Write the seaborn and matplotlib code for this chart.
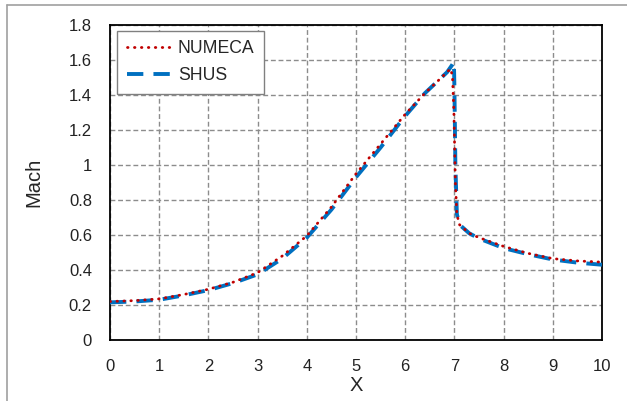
import matplotlib
matplotlib.use("Agg")
import matplotlib.pyplot as plt
from matplotlib.lines import Line2D
import seaborn as sns
import pandas as pd

numeca_x = [0, 0.5, 1, 1.5, 2, 2.5, 3, 3.5, 4, 4.5, 5, 5.5, 6, 6.4, 6.7, 6.85, 6.92, 6.96, 6.99, 7.02, 7.05, 7.1, 7.3, 7.5, 8, 8.5, 9, 9.5, 10]
numeca_y = [0.22, 0.225, 0.235, 0.26, 0.29, 0.33, 0.385, 0.48, 0.595, 0.76, 0.95, 1.12, 1.29, 1.41, 1.49, 1.53, 1.55, 1.51, 1.3, 0.9, 0.72, 0.66, 0.61, 0.585, 0.535, 0.495, 0.465, 0.452, 0.445]

shus_x = [0, 0.5, 1, 1.5, 2, 2.5, 3, 3.5, 4, 4.5, 5, 5.5, 6, 6.4, 6.7, 6.85, 6.95, 6.99, 7.0, 7.02, 7.05, 7.1, 7.3, 7.5, 8, 8.5, 9, 9.5, 10]
shus_y = [0.215, 0.22, 0.23, 0.255, 0.285, 0.325, 0.375, 0.465, 0.585, 0.745, 0.93, 1.1, 1.28, 1.41, 1.49, 1.53, 1.57, 1.59, 1.45, 1.0, 0.72, 0.66, 0.61, 0.58, 0.525, 0.49, 0.46, 0.442, 0.43]

x_ticks = [0, 1, 2, 3, 4, 5, 6, 7, 8, 9, 10]
y_ticks = [0, 0.2, 0.4, 0.6, 0.8, 1.0, 1.2, 1.4, 1.6, 1.8]
y_tick_labels = ["0", "0.2", "0.4", "0.6", "0.8", "1", "1.2", "1.4", "1.6", "1.8"]

sns.set_style("white")
plt.rcParams["font.family"] = ["Liberation Sans", "DejaVu Sans"]

RED_STYLE = (0, (0.2, 2.3))
BLUE_STYLE = (0, (4.2, 2.6))

fig = plt.figure(figsize=(6.27, 4.01), dpi=100)
ax = fig.add_axes([110 / 627, 61 / 401, 492 / 627, 315 / 401])

df_n = pd.DataFrame({"X": numeca_x, "Mach": numeca_y})
df_s = pd.DataFrame({"X": shus_x, "Mach": shus_y})

sns.lineplot(data=df_n, x="X", y="Mach", ax=ax, color="#C00000", linewidth=2.0,
             estimator=None, sort=True, label="NUMECA", zorder=4)
sns.lineplot(data=df_s, x="X", y="Mach", ax=ax, color="#0070C0", linewidth=2.8,
             estimator=None, sort=True, label="SHUS", zorder=3)
ln_n, ln_s = ax.get_lines()[0], ax.get_lines()[1]
ln_n.set_linestyle(RED_STYLE)
ln_n.set_dash_capstyle("round")
ln_s.set_linestyle(BLUE_STYLE)
ln_s.set_dash_capstyle("butt")

ax.set_xlim(0, 10)
ax.set_ylim(0, 1.8)
ax.set_xticks(x_ticks)
ax.set_xticklabels([str(t) for t in x_ticks])
ax.set_yticks(y_ticks)
ax.set_yticklabels(y_tick_labels)
ax.tick_params(axis="both", direction="in", length=4, width=0.8, color="black",
               labelsize=12, labelcolor="#222222")
ax.tick_params(axis="x", pad=14)
ax.tick_params(axis="y", pad=13)
ax.grid(True, color="#8c8c8c", linestyle=(0, (3.5, 2)), linewidth=1.0)
for s in ax.spines.values():
    s.set_color("black")
    s.set_linewidth(1.3)

ax.set_xlabel("X", fontsize=14.5, labelpad=1)
ax.set_ylabel("Mach", fontsize=14.5, labelpad=18)

leg = ax.legend(loc="upper left", bbox_to_anchor=(0.014, 0.982), fontsize=12.7,
                handlelength=2.6, handletextpad=0.3, labelspacing=0.55,
                frameon=True, fancybox=False, borderpad=0.55, borderaxespad=0)
leg.get_frame().set_edgecolor("#808080")
leg.get_frame().set_linewidth(1.0)
leg.get_frame().set_alpha(1)
lh_n, lh_s = leg.get_lines()[0], leg.get_lines()[1]
lh_n.set_linewidth(2.0)
lh_n.set_linestyle(RED_STYLE)
lh_n.set_dash_capstyle("round")
lh_s.set_linewidth(2.8)
lh_s.set_linestyle(BLUE_STYLE)

fig.add_artist(Line2D([7 / 627, 1], [396.5 / 401, 396.5 / 401], color="#a0a0a0", linewidth=1.2, transform=fig.transFigure))
fig.add_artist(Line2D([7 / 627, 7 / 627], [0, 396.5 / 401], color="#a0a0a0", linewidth=1.2, transform=fig.transFigure))

fig.savefig("out.png", dpi=100)
